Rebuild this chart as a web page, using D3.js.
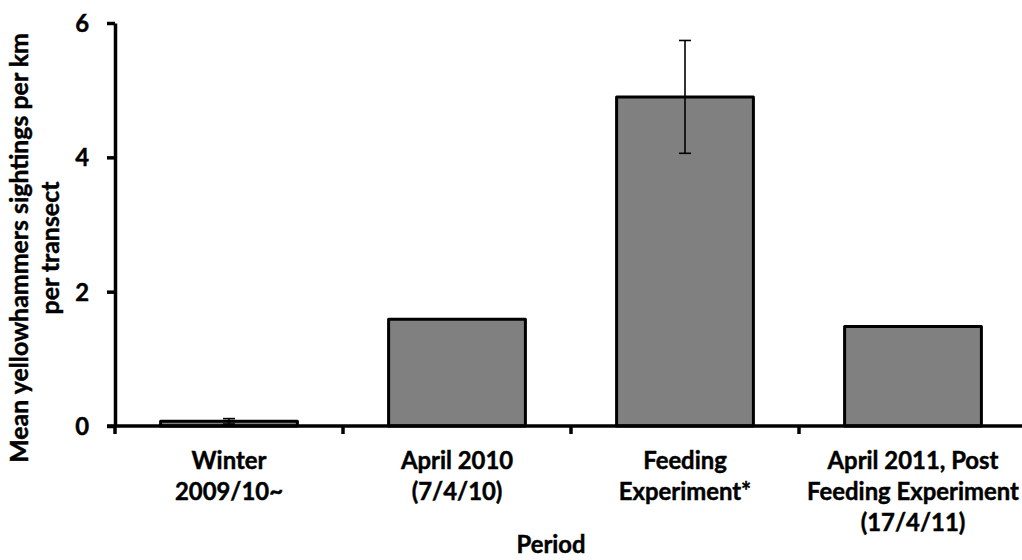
<!DOCTYPE html>
<html>
<head>
<meta charset="utf-8">
<script src="https://cdn.jsdelivr.net/npm/d3@7"></script>
<style>
  html, body { margin: 0; padding: 0; background: #fff; }
  svg { display: block; }
  text { font-family: Lato, "Open Sans", sans-serif; font-weight: bold; fill: #000; stroke: #000; stroke-width: 0.45px; }
</style>
</head>
<body>
<svg id="chart" width="1022" height="560"></svg>
<script>
// ---- data ----
const categories = ["Winter 2009/10~", "April 2010 (7/4/10)", "Feeding Experiment*", "April 2011, Post Feeding Experiment (17/4/11)"];
const categoryLines = [
  ["Winter", "2009/10~"],
  ["April 2010", "(7/4/10)"],
  ["Feeding", "Experiment*"],
  ["April 2011, Post", "Feeding Experiment", "(17/4/11)"]
];
const means = [0.07, 1.59, 4.90, 1.48];
const errors = [0.04, 0, 0.84, 0];
const yTicks = [0, 2, 4, 6];
const yTitleLines = ["Mean yellowhammers sightings per km", "per transect"];
const xTitle = "Period";

// ---- layout ----
const svg = d3.select("#chart");
const plotLeft = 115, plotRight = 1027, plotTop = 23, plotBottom = 426;

// font size fitting helper (match reference text widths)
function fitSize(str, targetWidth) {
  const t = svg.append("text").attr("font-size", 20).text(str);
  const w = t.node().getComputedTextLength();
  t.remove();
  return 20 * targetWidth / w;
}
const catSize = fitSize("Feeding Experiment", 212);
const yTitleSize = fitSize(yTitleLines[0], 430);
const xTitleSize = fitSize(xTitle, 69);

const x = d3.scaleBand().domain(categories).range([plotLeft, plotRight]).paddingInner(0.4).paddingOuter(0.2);
const y = d3.scaleLinear().domain([0, 6]).range([plotBottom, plotTop]);

// bars
svg.append("g").selectAll("rect").data(means).join("rect")
  .attr("x", (d, i) => x(categories[i]))
  .attr("y", d => y(d))
  .attr("width", x.bandwidth())
  .attr("height", d => y(0) - y(d))
  .attr("fill", "#808080")
  .attr("stroke", "#000")
  .attr("stroke-width", 3)
  .attr("stroke-linejoin", "round");

// error bars
const eb = svg.append("g").attr("stroke", "#000").attr("stroke-width", 1.6);
means.forEach((m, i) => {
  const e = errors[i];
  if (!e) return;
  const cx = x(categories[i]) + x.bandwidth() / 2;
  eb.append("line").attr("x1", cx).attr("x2", cx).attr("y1", y(m + e)).attr("y2", y(m - e));
  eb.append("line").attr("x1", cx - 6).attr("x2", cx + 6).attr("y1", y(m + e)).attr("y2", y(m + e));
  eb.append("line").attr("x1", cx - 6).attr("x2", cx + 6).attr("y1", y(m - e)).attr("y2", y(m - e));
});

// y axis
const yAxis = svg.append("g").attr("transform", `translate(${plotLeft},0)`)
  .call(d3.axisLeft(y).tickValues(yTicks).tickSize(8).tickSizeOuter(0).tickPadding(18).tickFormat(d3.format("d")));
yAxis.select(".domain").attr("stroke-width", 3.5);
yAxis.selectAll(".tick line").attr("stroke-width", 3.5);
yAxis.selectAll(".tick text").attr("font-size", catSize).attr("font-family", "Lato, sans-serif").attr("font-weight", "bold").attr("dy", "0.35em");

// x axis line
svg.append("line").attr("x1", plotLeft - 8).attr("x2", 1022).attr("y1", plotBottom).attr("y2", plotBottom)
  .attr("stroke", "#000").attr("stroke-width", 3.5);

// x ticks at band boundaries
const boundaries = categories.map(c => x(c) - x.step() * x.paddingInner() / 2);
svg.append("g").selectAll("line").data(boundaries).join("line")
  .attr("x1", d => d).attr("x2", d => d)
  .attr("y1", plotBottom).attr("y2", plotBottom + 8)
  .attr("stroke", "#000").attr("stroke-width", 3.5);

// category labels
const lab = svg.append("g");
categoryLines.forEach((lines, i) => {
  const cx = x(categories[i]) + x.bandwidth() / 2;
  lines.forEach((t, j) => {
    lab.append("text").attr("x", cx).attr("y", 469 + j * 31)
      .attr("text-anchor", "middle").attr("font-size", catSize).text(t);
  });
});

// axis titles
svg.append("text").attr("x", 551).attr("y", 553).attr("text-anchor", "middle")
  .attr("font-size", xTitleSize).text(xTitle);

const yt = svg.append("g").attr("transform", "translate(0,248) rotate(-90)");
yTitleLines.forEach((t, j) => {
  yt.append("text").attr("x", 0).attr("y", 28 + j * 31).attr("text-anchor", "middle")
    .attr("font-size", yTitleSize).text(t);
});
</script>
</body>
</html>
